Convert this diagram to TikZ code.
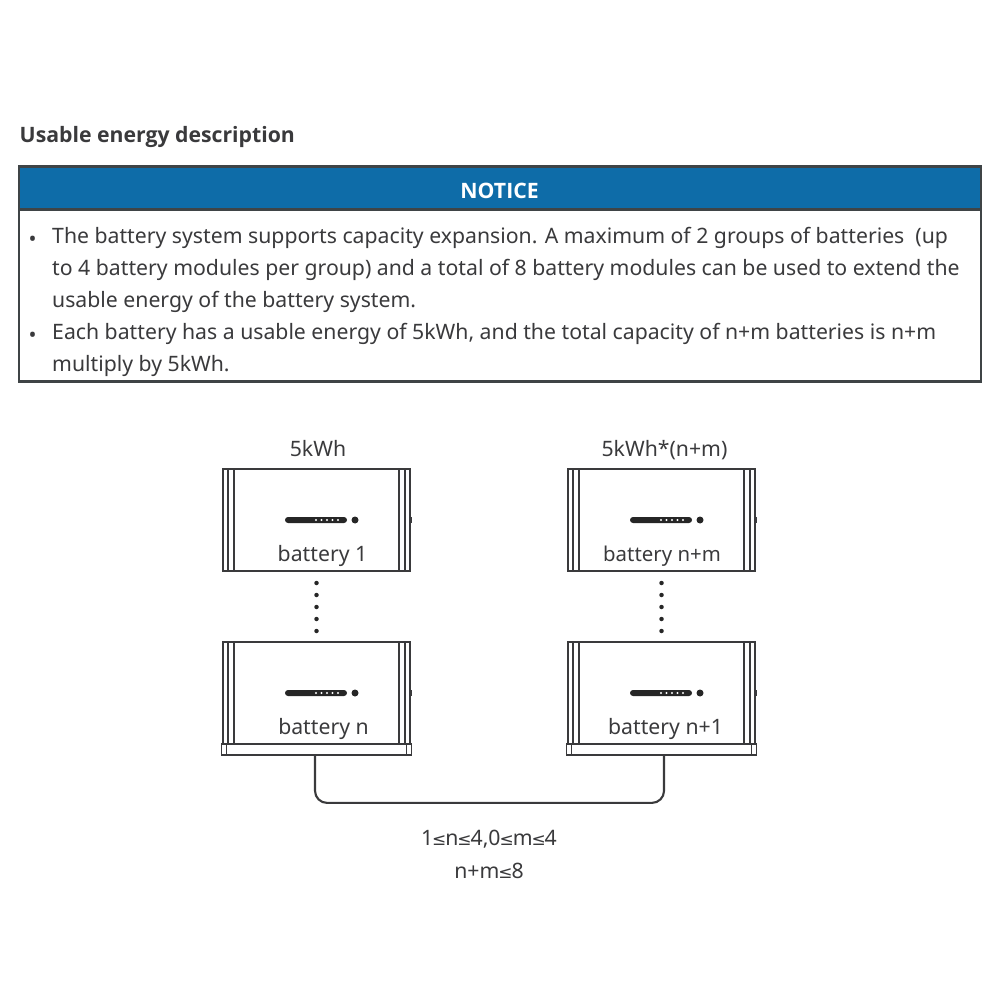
\documentclass[tikz,border=0pt]{standalone}
\usepackage{fontspec}
\setmainfont{Noto Sans}
\newfontfamily\headfont{Open Sans}
\newfontfamily\symfont[Scale=.8]{DejaVu Sans}
\usetikzlibrary{calc,positioning}
\definecolor{ink}{HTML}{3A3A3C}
\definecolor{frame}{HTML}{3F4446}
\definecolor{headfill}{HTML}{0E6CA8}
\newcommand{\six}{\fontsize{6.04}{9.1}\selectfont}
\newcommand{\atmost}{\kern-.3pt{\symfont ≤}\kern-.3pt}
\tikzset{
 every node/.append style={font=\six,text=ink,inner sep=0pt},
 body/.style={draw=ink,line width=.5pt,minimum width=18.7mm,minimum height=10.2mm},
 base/.style={draw=ink,line width=.5pt,fill=white,minimum width=19mm,minimum height=1.1mm},
 para/.style={align=left,anchor=north west},
 word/.style={anchor=center},
 head/.style={font=\fontsize{6.04}{8}\selectfont\headfont\bfseries},
 rib/.style={draw=ink,line width=.4pt},
 led/.style={draw=none,fill=black!85,rounded corners=.3mm,minimum width=6.2mm,minimum height=.6mm},
 lamp/.style={circle,draw=none,fill=black!85,minimum size=.7mm},
 pip/.style={circle,draw=none,fill=black!85,minimum size=.45mm},
 wire/.style={draw=ink,line width=.6pt,rounded corners=1.2mm},
}
\newcommand{\module}[5]{
 \node[body] (#1) at (#2,#3) {};
 \foreach \off in {.06,.12} {
  \draw[rib] ($(#1.north west)+(\off,0)$) -- ($(#1.south west)+(\off,0)$);
  \draw[rib] ($(#1.north east)-(\off,0)$) -- ($(#1.south east)-(\off,0)$);
 }
 \node[led] (#1led) at ($(#1)+(-.005,-.0)$) {};
 \node[lamp] (#1lamp) at ($(#1)+(.385,0)$) {};
 \foreach \dx in {0,.055,.11,.165,.22} {
  \fill[white] ($(#1)+(-.005+\dx,0)$) circle (.012);
 }
 \draw[ink,line width=.8pt] ($(#1.east)+(0,.03)$) -- ($(#1.east)-(0,.03)$);
 \node[word] (#1name) at ($(#1)+(#5,-.36)$) {#4};
}
\begin{document}
\begin{tikzpicture}

\useasboundingbox (0,0) rectangle (10,-10);
\node[head,anchor=west] (heading) at (.19,-1.37) {Usable energy description};
\node[draw=frame,line width=.6pt,fill=white,minimum width=96.2mm,minimum height=21.5mm,anchor=north west] (notice) at (.175,-1.655) {};
\node[draw=frame,line width=.6pt,fill=headfill,minimum width=96.2mm,minimum height=4.3mm,anchor=north west] (headbar) at (.175,-1.655) {};
\node[head,text=white] (title) at ($(headbar.center)+(0,-.03)$) {NOTICE};
\node[word] (dotone) at (.325,-2.41) {•};
\node[para] (first) at (.515,-2.265) {The battery system supports capacity expansion. A maximum of 2 groups of batteries~ (up\\to 4 battery modules per group) and a total of 8 battery modules can be used to extend the\\usable energy of the battery system.};
\node[word] (dottwo) at (.325,-3.37) {•};
\node[para] (second) at (.515,-3.225) {Each battery has a usable energy of 5kWh, and the total capacity of n+m batteries is n+m\\multiply by 5kWh.};
\node[word] (lefttop) at (3.18,-4.49) {5kWh};
\node[word] (righttop) at (6.645,-4.5) {5kWh*(n+m)};
\module{bat1}{3.165}{-5.2}{battery 1}{.06}
\module{batm}{6.615}{-5.2}{\fontsize{5.8}{8}\selectfont battery n+m}{.005}
\module{batn}{3.165}{-6.93}{battery n}{.07}
\module{bat2}{6.615}{-6.93}{battery n+1}{.04}
\node[base] (baseleft) at (3.165,-7.495) {};
\node[base] (baseright) at (6.615,-7.495) {};
\foreach \b in {baseleft,baseright} {
 \draw[rib] ($(\b.north west)+(.06,0)$) -- ($(\b.south west)+(.06,0)$);
 \draw[rib] ($(\b.north east)-(.06,0)$) -- ($(\b.south east)-(.06,0)$);
}
\foreach \n in {1,...,5} {
 \node[pip] (dl\n) at (3.165,-5.83-.12*\n+.12) {};
 \node[pip] (dr\n) at (6.615,-5.83-.12*\n+.12) {};
}
\coordinate (wirel) at ($(baseleft.south)+(-.015,0)$);
\coordinate (wirer) at ($(baseright.south)+(.025,0)$);
\draw[wire] (wirel) -- ++(0,-.47) -| (wirer);
\node[word] (rulea) at (4.89,-8.39) {1\atmost n\atmost 4,0\atmost m\atmost 4};
\node[word] (ruleb) at (4.89,-8.71) {n+m\atmost 8};

\end{tikzpicture}
\end{document}
